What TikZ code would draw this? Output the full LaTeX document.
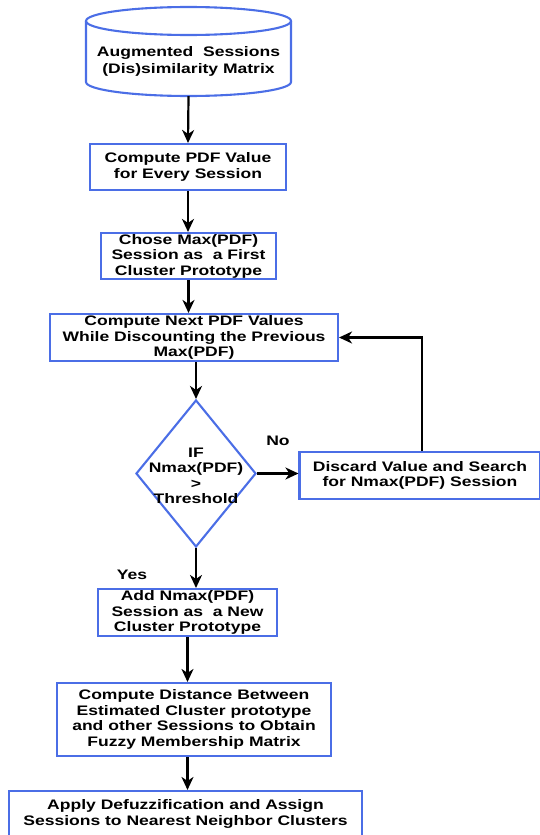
\documentclass[tikz,border=0pt]{standalone}
\usepackage{fontspec}
\setmainfont{Liberation Sans}[FakeStretch=1.27]
\usetikzlibrary{arrows.meta,shapes.geometric}
\definecolor{bblue}{RGB}{75,110,230}
\begin{document}
\begin{tikzpicture}[x=1pt,y=-1pt,
  txt/.style={font=\fontsize{13.8}{15.5}\selectfont\bfseries, align=center, inner sep=0pt},
  box/.style={txt, draw=bblue, line width=2.1pt, fill=white},
  arr/.style={line width=2.2pt, -{Stealth[length=13pt,width=12pt,inset=4pt]}}]
\useasboundingbox (0,0) rectangle (539,835);
% cylinder
\node[minimum width=205pt, minimum height=89pt, inner sep=0pt] (cyl) at (188.5,51.5) {};
\draw[draw=bblue, line width=2.1pt] (188.5,21) ellipse [x radius=102.5pt, y radius=14pt];
\draw[draw=bblue, line width=2.1pt] (86,21) -- (86,82) arc[start angle=180, end angle=360, x radius=102.5pt, y radius=14pt] -- (291,21);
\node[txt, font=\fontsize{13.8}{17}\selectfont\bfseries] (cyltxt) at (188.5,61.5) {Augmented\ \ Sessions\\(Dis)similarity Matrix};
% boxes
\node[box, minimum width=196pt, minimum height=46pt] (b1) at (188,167) {Compute PDF Value\\for Every Session};
\node[box, minimum width=175pt, minimum height=46pt] (b2) at (188.5,256) {Chose Max(PDF)\\Session as\ \ a First\\Cluster Prototype};
\node[box, minimum width=288pt, minimum height=47pt] (b3) at (194,337.5) {Compute Next PDF Values\\While Discounting the Previous\\Max(PDF)};
\node[txt, draw=bblue, line width=2.1pt, shape=diamond, minimum width=120pt, minimum height=147pt] (dia) at (196,473.5) {};
\node[txt] (diatxt) at (196,476) {IF\\Nmax(PDF)\\>\\Threshold};
\node[box, minimum width=241pt, minimum height=47pt] (b4) at (420,475.5) {Discard Value and Search\\for Nmax(PDF) Session};
\node[box, minimum width=179pt, minimum height=47pt] (b5) at (187.5,612.5) {Add Nmax(PDF)\\Session as\ \ a New\\Cluster Prototype};
\node[box, minimum width=274pt, minimum height=73pt] (b6) at (194,719.5) {Compute Distance Between\\Estimated Cluster prototype\\and other Sessions to Obtain\\Fuzzy Membership Matrix};
\node[box, minimum width=353pt, minimum height=46pt] (b7) at (185.5,814) {Apply Defuzzification and Assign\\Sessions to Nearest Neighbor Clusters};
% labels
\node[txt] (no) at (278,441) {No};
\node[txt] (yes) at (132,575) {Yes};
% connectors
\draw[arr] (cyl.south) -- (b1.north);
\draw[arr] (b1.south) -- (b1.south |- b2.north);
\draw[arr] (b2.south) -- (b2.south |- b3.north);
\draw[arr] (dia.north |- b3.south) -- (dia.north);
\draw[arr] (dia.east) -- (dia.east -| b4.west);
\draw[arr] ([xshift=2pt]b4.north) |- (b3.east);
\draw[arr] (dia.south) -- (dia.south |- b5.north);
\draw[arr] (b5.south) -- (b5.south |- b6.north);
\draw[arr] (b5.south |- b6.south) -- (b5.south |- b7.north);
\end{tikzpicture}
\end{document}
